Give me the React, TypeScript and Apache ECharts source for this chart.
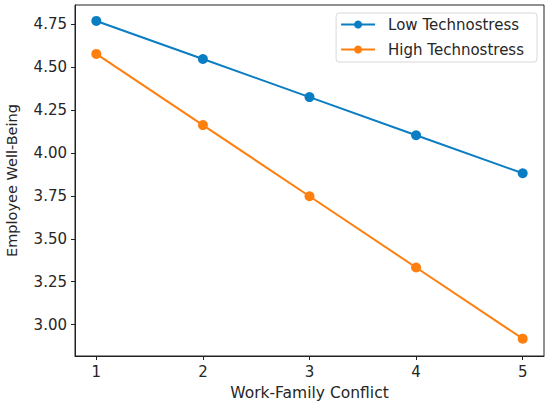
import React, { useEffect, useRef } from "react";
import * as echarts from "echarts";

const xValues = [1, 2, 3, 4, 5];
const lowTechnostress = [4.77, 4.548, 4.326, 4.104, 3.882];
const highTechnostress = [4.578, 4.163, 3.748, 3.333, 2.918];
const yTicks = [3.0, 3.25, 3.5, 3.75, 4.0, 4.25, 4.5, 4.75];
const xTicks = [1, 2, 3, 4, 5];
const seriesNames = ["Low Technostress", "High Technostress"];

const FONT = "DejaVu Sans";
const TEXT = "#262626";

export default function App() {
  const ref = useRef<HTMLDivElement>(null);
  useEffect(() => {
    const chart = echarts.init(ref.current!, null, { renderer: "svg" });
    const mk = (name: string, vals: number[], color: string) => ({
      name,
      type: "line",
      data: xValues.map((x, i) => [x, vals[i]]),
      symbol: "circle",
      symbolSize: 10,
      itemStyle: { color },
      lineStyle: { color, width: 2 },
      z: 3,
    });
    chart.setOption({
      animation: false,
      backgroundColor: "#fff",
      grid: {
        left: 75,
        right: 6,
        top: 5,
        bottom: 53,
        containLabel: false,
        outerBoundsMode: "none",
        show: true,
        borderColor: "#222",
        borderWidth: 1,
        backgroundColor: "transparent",
      },
      legend: {
        orient: "vertical",
        right: 13,
        top: 13,
        itemWidth: 34,
        itemHeight: 10,
        itemGap: 10,
        padding: [4, 13, 5, 4],
        backgroundColor: "#fff",
        borderColor: "#d8d8d8",
        borderWidth: 1,
        borderRadius: 3,
        textStyle: { fontFamily: FONT, fontSize: 15, color: TEXT, padding: [0, 0, 0, 8] },
        data: seriesNames,
      },
      xAxis: {
        type: "value",
        min: 0.8,
        max: 5.2,
        name: "Work-Family Conflict",
        nameLocation: "middle",
        nameGap: 29,
        nameTextStyle: { fontFamily: FONT, fontSize: 15.5, color: TEXT },
        axisLine: { show: true, onZero: false, lineStyle: { color: "#222", width: 1 } },
        axisTick: { show: true, customValues: xTicks, length: 4, lineStyle: { color: "#222" } },
        axisLabel: {
          customValues: xTicks,
          fontFamily: FONT,
          fontSize: 15,
          color: TEXT,
          margin: 8,
          formatter: (v: number) => String(v),
        },
        splitLine: { show: false },
      },
      yAxis: {
        type: "value",
        min: 2.817,
        max: 4.863,
        name: "Employee Well-Being",
        nameLocation: "middle",
        nameGap: 56,
        nameTextStyle: { fontFamily: FONT, fontSize: 14.5, color: TEXT },
        axisLine: { show: true, onZero: false, lineStyle: { color: "#222", width: 1 } },
        axisTick: { show: true, customValues: yTicks, length: 4, lineStyle: { color: "#222" } },
        axisLabel: {
          customValues: yTicks,
          fontFamily: FONT,
          fontSize: 15,
          color: TEXT,
          margin: 8,
          formatter: (v: number) => v.toFixed(2),
        },
        splitLine: { show: false },
      },
      series: [
        mk(seriesNames[0], lowTechnostress, "#0b7dc2"),
        mk(seriesNames[1], highTechnostress, "#ff7f0e"),
      ],
    });
    return () => chart.dispose();
  }, []);
  return <div ref={ref} style={{ width: 550, height: 409, position: "absolute", left: 0, top: 0 }} />;
}
